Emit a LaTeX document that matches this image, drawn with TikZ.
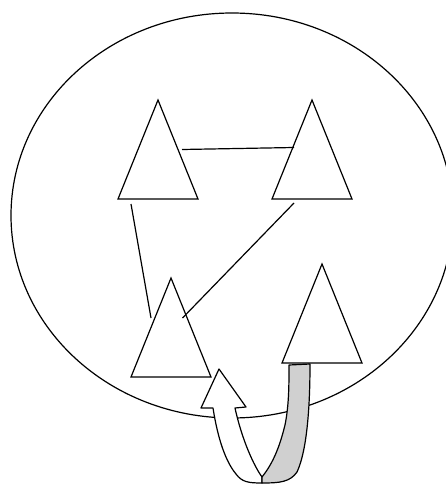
\documentclass[tikz,border=0pt]{standalone}
\usetikzlibrary{shapes.geometric}
\definecolor{ribbon}{RGB}{208,208,208}
\begin{document}
\begin{tikzpicture}[x=1pt,y=-1pt,line width=1.2pt,
    tri/.style={draw,fill=white,isosceles triangle,isosceles triangle stretches,shape border rotate=90,minimum width=80pt,minimum height=99pt,inner sep=0pt,outer sep=0pt,anchor=apex}]
    \useasboundingbox (0,0) rectangle (446,484);
    \node[draw,ellipse,minimum width=442pt,minimum height=405pt,inner sep=0pt](world)at (232,215.5){};
    \node[tri](t1)at (158,100){};
    \node[tri](t2)at (312,100){};
    \node[tri](t3)at (171,278){};
    \node[tri](t4)at (322,264){};
    \draw([xshift=4pt]t1.right side)--([shift={(2pt,2pt)}]t2.left side);
    \draw([shift={(13pt,-5pt)}]t1.left corner)--([yshift=9.5pt]t3.left side);
    \draw([shift={(22pt,-4pt)}]t2.left corner)--([shift={(-8.5pt,9.5pt)}]t3.right side);
    % u-turn ribbon under t4
    \draw[fill=white,line join=round] (213,408) .. controls (218,440) and (226,462) .. (236,474) .. controls (242,482) and (248,483) .. (262,483) -- (262,477) .. controls (254,466) and (242,440) .. (235,408) -- (246,407) -- (219,369) -- (201,408) -- cycle;
    \draw[fill=ribbon,line join=round] (289,365) -- (310,364) .. controls (310,420) and (305,455) .. (297,472) .. controls (290,482) and (280,483) .. (262,483) -- (262,477) .. controls (274,462) and (280,445) .. (285,425) .. controls (289,405) and (289,385) .. (289,365) -- cycle;
\end{tikzpicture}
\end{document}
